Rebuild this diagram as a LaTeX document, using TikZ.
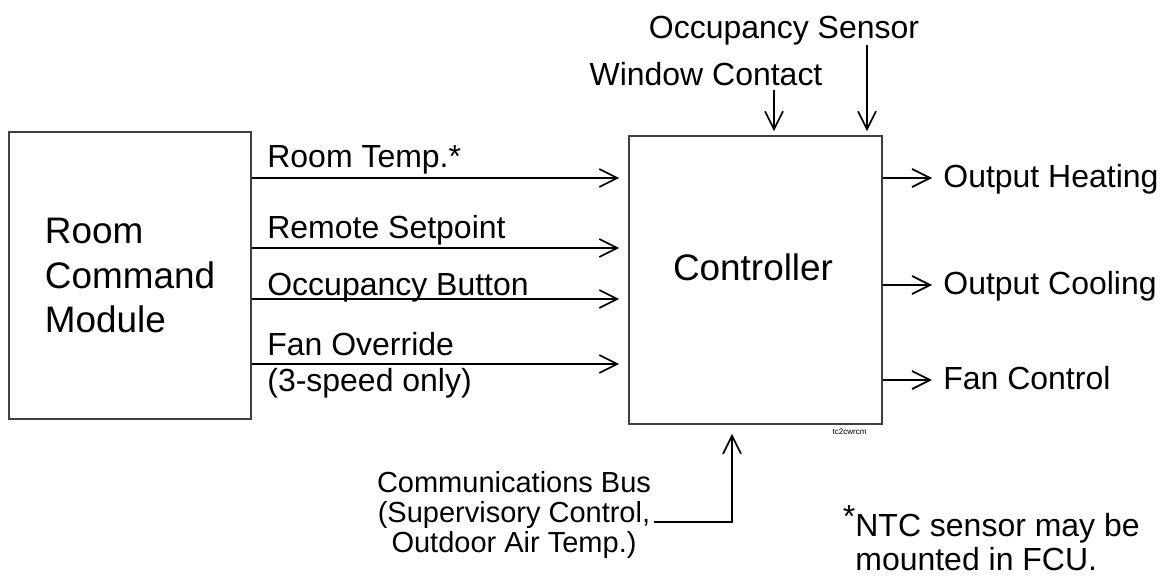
\documentclass[tikz,border=0pt]{standalone}
\usepackage{fontspec}
\setmainfont{Liberation Sans}
\usetikzlibrary{arrows.meta,positioning}

\begin{document}
\begin{tikzpicture}[
    block/.style={rectangle,draw=black!75,line width=0.9pt,align=left,font=\fontsize{21}{25.3}\selectfont},
    sig/.style={inner sep=0pt,align=left,font=\fontsize{18.2}{20.4}\selectfont},
    arrow/.style={-{Straight Barb[length=0.36cm,width=0.36cm,line width=1pt]},line width=0.65pt}
]
    \useasboundingbox (0,0) rectangle (23.42,-11.54);

    % Boxes
    \node[block,minimum width=4.84cm,minimum height=5.74cm] (rcm) at (2.6,-5.51) {Room\\Command\\Module};
    \node[block,minimum width=5.06cm,minimum height=5.76cm] (ctrl) at (15.11,-5.6) {};
    \node[anchor=base,inner sep=0pt,font=\fontsize{21}{25.3}\selectfont] (ctrltxt) at (15.06,-5.6) {Controller};

    % Inputs from the room command module
    \node[sig,anchor=base west] (rt) at (5.34,-3.34) {Room Temp.*};
    \node[sig,anchor=base west] (rs) at (5.34,-4.76) {Remote Setpoint};
    \node[sig,anchor=base west] (ob) at (5.34,-5.9) {Occupancy Button};
    \node[sig,anchor=base west] (fo) at (5.34,-7.82) {Fan Override\\(3-speed only)};
    \draw[arrow,shorten >=0.18cm] (rcm.east |- 0,-3.56) -- (ctrl.west |- 0,-3.56);
    \draw[arrow,shorten >=0.18cm] (rcm.east |- 0,-4.96) -- (ctrl.west |- 0,-4.96);
    \draw[arrow,shorten >=0.18cm] (rcm.east |- 0,-5.98) -- (ctrl.west |- 0,-5.98);
    \draw[arrow,shorten >=0.18cm] (rcm.east |- 0,-7.28) -- (ctrl.west |- 0,-7.28);

    % Outputs
    \node[sig,anchor=mid west] (heat) at (18.86,-3.66) {Output Heating};
    \node[sig,anchor=mid west] (cool) at (18.86,-5.8) {Output Cooling};
    \node[sig,anchor=mid west] (fan) at (18.86,-7.7) {Fan Control};
    \draw[arrow,shorten >=0.22cm] (ctrl.east |- 0,-3.56) -- (heat.west |- 0,-3.56);
    \draw[arrow,shorten >=0.22cm] (ctrl.east |- 0,-5.7) -- (cool.west |- 0,-5.7);
    \draw[arrow,shorten >=0.22cm] (ctrl.east |- 0,-7.6) -- (fan.west |- 0,-7.6);

    % Sensors on top
    \node[sig,anchor=base] (win) at (14.12,-1.7) {Window Contact};
    \node[sig,anchor=base] (occ) at (15.68,-0.76) {Occupancy Sensor};
    \draw[arrow,shorten <=0.08cm,shorten >=0.08cm] (win.south -| 15.48,0) -- (ctrl.north -| 15.48,0);
    \draw[arrow,shorten >=0.08cm] (occ.south -| 17.34,0) -- (ctrl.north -| 17.34,0);

    % Communications bus
    \node[sig,anchor=base,align=center,font=\fontsize{16.5}{16.8}\selectfont] (bus) at (10.28,-11.04) {Communications Bus\\(Supervisory Control,\\Outdoor Air Temp.)};
    \draw[arrow,shorten <=0.06cm,shorten >=0.18cm] (bus.east |- 0,-10.44) -| (ctrl.south -| 14.64,0);

    % Notes
    \node[anchor=base east,inner sep=0pt,font=\fontsize{4.6}{5}\selectfont] (tag) at (17.34,-8.68) {tc2cwrcm};
    \node[sig,anchor=base west,font=\fontsize{18.2}{18.8}\selectfont] (ntc) at (17.1,-11.4) {\llap{\raisebox{0.3em}{*}}NTC sensor may be\\mounted in FCU.};
\end{tikzpicture}
\end{document}
